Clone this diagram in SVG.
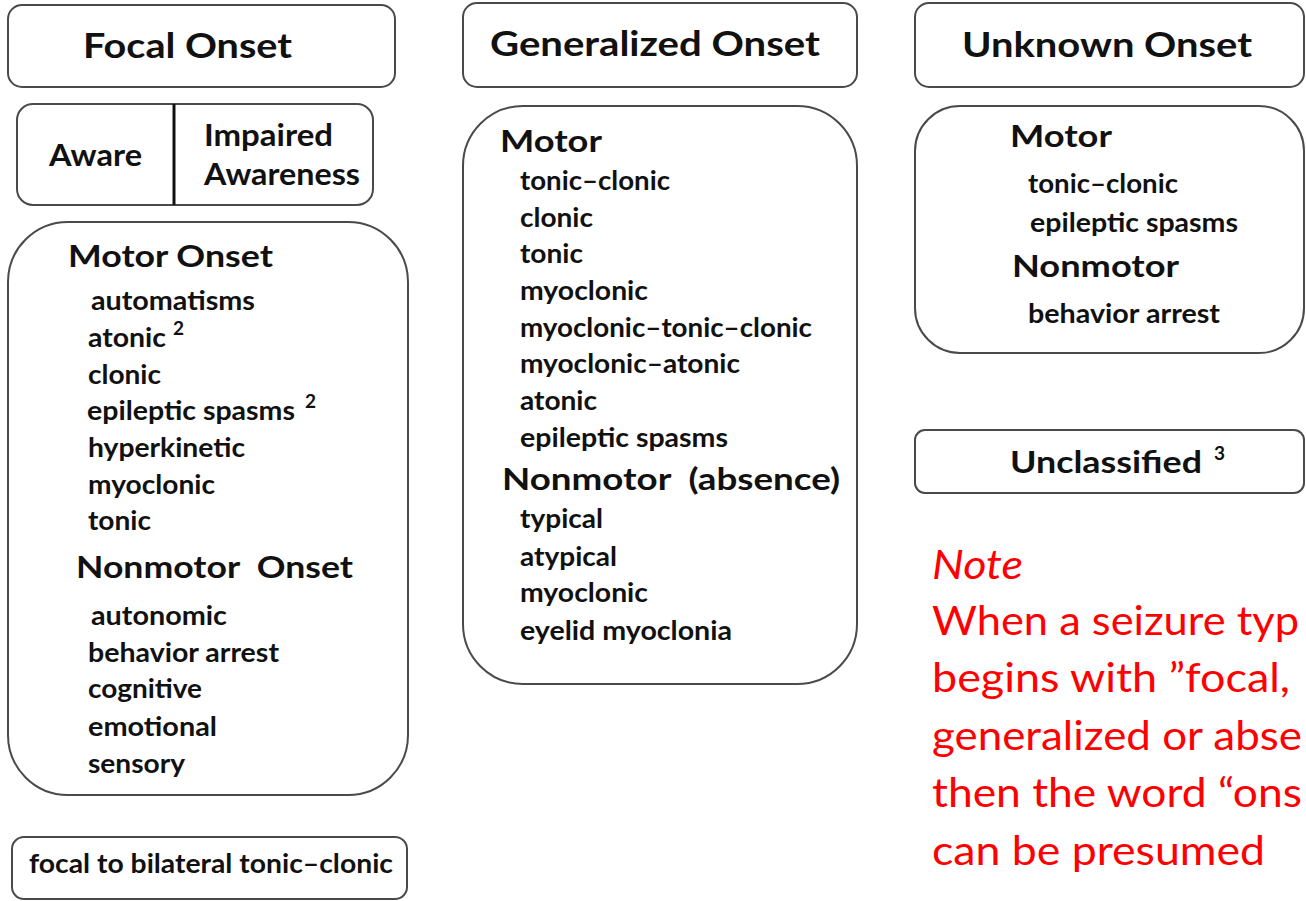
<svg xmlns="http://www.w3.org/2000/svg" width="1306" height="901" viewBox="0 0 1306 901">
<style>
.box{fill:#fff;stroke:#4a4a4a;stroke-width:2}
.t{font-family:Lato,"Liberation Sans",sans-serif;font-weight:bold;fill:#111}
.h1{font-size:35px}
.h2{font-size:30px}
.it{font-size:27px}
.sup{font-size:19px}
.note{font-family:Lato,"Liberation Sans",sans-serif;font-size:40px;fill:#ff0000}
</style>
<rect width="1306" height="901" fill="#fff"/>
<g id="focal-onset">
<rect class="box" x="8" y="5" width="387" height="82" rx="14"/>
<text class="t h1" x="83" y="58" textLength="209" lengthAdjust="spacingAndGlyphs">Focal Onset</text>
</g>
<g id="awareness">
<rect class="box" x="17" y="104" width="356" height="101" rx="16"/>
<line x1="174" y1="104" x2="174" y2="205" stroke="#111" stroke-width="3"/>
<text class="t" x="49" y="166" style="font-size:31px" textLength="93" lengthAdjust="spacingAndGlyphs">Aware</text>
<text class="t" x="204" y="146" style="font-size:31px" textLength="129" lengthAdjust="spacingAndGlyphs">Impaired</text>
<text class="t" x="204" y="185" style="font-size:31px" textLength="156" lengthAdjust="spacingAndGlyphs">Awareness</text>
</g>
<g id="focal-types">
<rect class="box" x="8" y="222" width="400" height="573" rx="60"/>
<text class="t h2" x="68" y="267" textLength="205" lengthAdjust="spacingAndGlyphs">Motor Onset</text>
<text class="t it" x="91" y="310" textLength="164" lengthAdjust="spacingAndGlyphs">automatisms</text>
<text class="t it" x="88" y="347" textLength="78" lengthAdjust="spacingAndGlyphs">atonic</text>
<text class="t sup" x="173" y="335">2</text>
<text class="t it" x="88" y="384" textLength="73" lengthAdjust="spacingAndGlyphs">clonic</text>
<text class="t it" x="87" y="420" textLength="208" lengthAdjust="spacingAndGlyphs">epileptic spasms</text>
<text class="t sup" x="305" y="408">2</text>
<text class="t it" x="88" y="457" textLength="157" lengthAdjust="spacingAndGlyphs">hyperkinetic</text>
<text class="t it" x="88" y="494" textLength="127" lengthAdjust="spacingAndGlyphs">myoclonic</text>
<text class="t it" x="88" y="530" textLength="63" lengthAdjust="spacingAndGlyphs">tonic</text>
<text class="t h2" x="76" y="578" xml:space="preserve" textLength="277" lengthAdjust="spacingAndGlyphs">Nonmotor  Onset</text>
<text class="t it" x="91" y="625" textLength="136" lengthAdjust="spacingAndGlyphs">autonomic</text>
<text class="t it" x="88" y="662" textLength="191" lengthAdjust="spacingAndGlyphs">behavior arrest</text>
<text class="t it" x="88" y="698" textLength="114" lengthAdjust="spacingAndGlyphs">cognitive</text>
<text class="t it" x="88" y="736" textLength="129" lengthAdjust="spacingAndGlyphs">emotional</text>
<text class="t it" x="88" y="773" textLength="97" lengthAdjust="spacingAndGlyphs">sensory</text>
</g>
<g id="focal-bilateral">
<rect class="box" x="12" y="837" width="395" height="62" rx="12"/>
<text class="t it" x="29" y="873" textLength="364" lengthAdjust="spacingAndGlyphs">focal to bilateral tonic–clonic</text>
</g>
<g id="generalized-onset">
<rect class="box" x="463" y="3" width="394" height="84" rx="14"/>
<text class="t" x="490" y="56" style="font-size:34px" textLength="330" lengthAdjust="spacingAndGlyphs">Generalized Onset</text>
</g>
<g id="generalized-types">
<rect class="box" x="463" y="106" width="394" height="578" rx="60"/>
<text class="t h2" x="500" y="152" textLength="102" lengthAdjust="spacingAndGlyphs">Motor</text>
<text class="t it" x="520" y="190" textLength="150" lengthAdjust="spacingAndGlyphs">tonic–clonic</text>
<text class="t it" x="520" y="227" textLength="73" lengthAdjust="spacingAndGlyphs">clonic</text>
<text class="t it" x="520" y="263" textLength="63" lengthAdjust="spacingAndGlyphs">tonic</text>
<text class="t it" x="520" y="300" textLength="128" lengthAdjust="spacingAndGlyphs">myoclonic</text>
<text class="t it" x="520" y="337" textLength="292" lengthAdjust="spacingAndGlyphs">myoclonic–tonic–clonic</text>
<text class="t it" x="520" y="373" textLength="220" lengthAdjust="spacingAndGlyphs">myoclonic–atonic</text>
<text class="t it" x="520" y="410" textLength="77" lengthAdjust="spacingAndGlyphs">atonic</text>
<text class="t it" x="520" y="447" textLength="208" lengthAdjust="spacingAndGlyphs">epileptic spasms</text>
<text class="t" x="502" y="490" xml:space="preserve" style="font-size:31px" textLength="338" lengthAdjust="spacingAndGlyphs">Nonmotor  (absence)</text>
<text class="t it" x="520" y="528" textLength="83" lengthAdjust="spacingAndGlyphs">typical</text>
<text class="t it" x="520" y="566" textLength="97" lengthAdjust="spacingAndGlyphs">atypical</text>
<text class="t it" x="520" y="602" textLength="128" lengthAdjust="spacingAndGlyphs">myoclonic</text>
<text class="t it" x="520" y="640" textLength="212" lengthAdjust="spacingAndGlyphs">eyelid myoclonia</text>
</g>
<g id="unknown-onset">
<rect class="box" x="915" y="3" width="389" height="84" rx="14"/>
<text class="t" x="962" y="57" style="font-size:34px" textLength="290" lengthAdjust="spacingAndGlyphs">Unknown Onset</text>
</g>
<g id="unknown-types">
<rect class="box" x="915" y="106" width="389" height="247" rx="45"/>
<text class="t h2" x="1010" y="147" textLength="102" lengthAdjust="spacingAndGlyphs">Motor</text>
<text class="t it" x="1028" y="193" textLength="150" lengthAdjust="spacingAndGlyphs">tonic–clonic</text>
<text class="t it" x="1030" y="232" textLength="208" lengthAdjust="spacingAndGlyphs">epileptic spasms</text>
<text class="t h2" x="1012" y="277" textLength="167" lengthAdjust="spacingAndGlyphs">Nonmotor</text>
<text class="t it" x="1028" y="323" textLength="192" lengthAdjust="spacingAndGlyphs">behavior arrest</text>
</g>
<g id="unclassified">
<rect class="box" x="915" y="430" width="389" height="63" rx="10"/>
<text class="t" x="1010" y="473" style="font-size:31px" textLength="192" lengthAdjust="spacingAndGlyphs">Unclassified</text>
<text class="t sup" x="1214" y="460">3</text>
</g>
<g id="note">
<text class="note" x="932" y="579" font-style="italic" textLength="91" lengthAdjust="spacingAndGlyphs">Note</text>
<text class="note" x="932" y="635" textLength="367" lengthAdjust="spacingAndGlyphs">When a seizure typ</text>
<text class="note" x="932" y="692" textLength="358" lengthAdjust="spacingAndGlyphs">begins with ”focal,</text>
<text class="note" x="932" y="750" textLength="370" lengthAdjust="spacingAndGlyphs">generalized or abse</text>
<text class="note" x="932" y="807" textLength="370" lengthAdjust="spacingAndGlyphs">then the word “ons</text>
<text class="note" x="932" y="865" textLength="333" lengthAdjust="spacingAndGlyphs">can be presumed</text>
</g>
</svg>
